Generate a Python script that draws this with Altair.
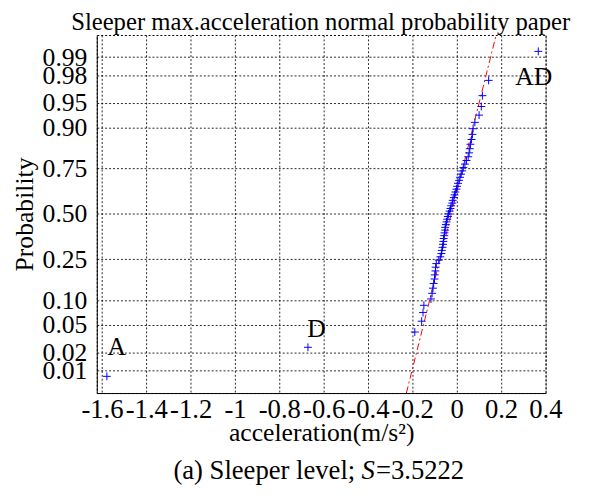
import altair as alt
import pandas as pd
from statistics import NormalDist

SERIF = "Liberation Serif"

# sorted sleeper max. acceleration samples (m/s^2)
accel = [-1.578, -0.671, -0.189, -0.158, -0.152, -0.148, -0.116, -0.111, -0.107, -0.104,
         -0.100, -0.099, -0.096, -0.095, -0.092, -0.081, -0.074, -0.069, -0.067, -0.064,
         -0.062, -0.060, -0.059, -0.056, -0.055, -0.052, -0.052, -0.049, -0.046, -0.043,
         -0.040, -0.037, -0.032, -0.028, -0.025, -0.020, -0.018, -0.013, -0.010, -0.006,
         -0.001, 0.002, 0.006, 0.011, 0.015, 0.020, 0.025, 0.030, 0.037, 0.044,
         0.052, 0.056, 0.059, 0.062, 0.067, 0.071, 0.074, 0.082, 0.101, 0.111,
         0.116, 0.144, 0.368]

prob_ticks = [0.01, 0.02, 0.05, 0.10, 0.25, 0.50, 0.75, 0.90, 0.95, 0.98, 0.99]
x_ticks = [-1.6, -1.4, -1.2, -1.0, -0.8, -0.6, -0.4, -0.2, 0.0, 0.2, 0.4]

fit_x = [-0.227, 0.178]
fit_z = [-2.66, 2.655]

ann_text = ["A", "D", "AD"]
ann_x = [-1.533, -0.632, 0.348]
ann_z = [-1.977, -1.709, 2.025]

title_text = "Sleeper max.acceleration normal probability paper"
cap_a, cap_s, cap_c = "(a) Sleeper level;", "S", "=3.5222"

z_ticks = [NormalDist().inv_cdf(p) for p in prob_ticks]

pts = pd.DataFrame({"x": accel})
fit = pd.DataFrame({"x": fit_x, "z": fit_z})
ann = pd.DataFrame({"t": ann_text, "x": ann_x, "z": ann_z})
txt = pd.DataFrame({"title": [title_text], "a": [cap_a], "b": [cap_s], "c": [cap_c]})

xs = alt.Scale(domain=[-1.6235, 0.401], nice=False, zero=False)
ys = alt.Scale(domain=[-2.66, 2.655], nice=False, zero=False)

x_axis = alt.Axis(values=x_ticks, labelExpr="'' + datum.value", grid=True,
                  ticks=False, tickSize=0, labelPadding=4, labelFontSize=27,
                  labelFont=SERIF, labelColor="black", labelOverlap=False,
                  labelBound=False, labelFlush=False, domainColor="black",
                  title="acceleration(m/s²)", titleFont=SERIF, titleFontSize=26,
                  titleFontWeight="normal", titleColor="black",
                  titleBaseline="alphabetic", titleY=48)
y_axis = alt.Axis(values=z_ticks,
                  labelExpr="format(cumulativeNormal(datum.value), '.2f')",
                  grid=True, ticks=False, tickSize=0, labelPadding=10,
                  labelFontSize=26, labelFont=SERIF, labelColor="black",
                  labelOverlap=False, labelBound=False, labelFlush=False,
                  domainColor="black", title="Probability", titleFont=SERIF,
                  titleFontSize=26, titleFontWeight="normal", titleColor="black",
                  titleBaseline="alphabetic", titleX=-65)

X = alt.X("x:Q", scale=xs, axis=x_axis)
Y = alt.Y("z:Q", scale=ys, axis=y_axis)

points = alt.Chart(pts).transform_window(
    i="row_number()", sort=[alt.SortField("x")]
).transform_joinaggregate(n="count()").transform_calculate(
    z="quantileNormal((datum.i - 0.5) / datum.n)"
).mark_point(shape="M-1,0L1,0M0,-1L0,1", size=64, filled=False,
             color="#0000ff", strokeWidth=1, opacity=1).encode(x=X, y=Y)

line = alt.Chart(fit).mark_line(color="red", strokeWidth=1,
                                strokeDash=[7, 3, 2, 3]).encode(x=X, y=Y)

labels = alt.Chart(ann).mark_text(font=SERIF, fontSize=26, color="black",
                                  align="center", baseline="middle").encode(
    x=X, y=Y, text="t:N")

title_mark = alt.Chart(txt).mark_text(font=SERIF, fontSize=25, color="black",
                                      align="center", baseline="alphabetic").encode(
    x=alt.value(227), y=alt.value(-5), text="title:N")
cap1 = alt.Chart(txt).mark_text(font=SERIF, fontSize=27, color="black",
                                align="right", baseline="alphabetic").encode(
    x=alt.value(262), y=alt.value(450), text="a:N")
cap2 = alt.Chart(txt).mark_text(font=SERIF, fontSize=27, fontStyle="italic",
                                color="black", align="center",
                                baseline="alphabetic").encode(
    x=alt.value(275), y=alt.value(450), text="b:N")
cap3 = alt.Chart(txt).mark_text(font=SERIF, fontSize=27, color="black",
                                align="left", baseline="alphabetic").encode(
    x=alt.value(283), y=alt.value(450), text="c:N")

chart = alt.layer(line, points, labels, title_mark, cap1, cap2, cap3).properties(
    width=455, height=363,
    autosize=alt.AutoSizeParams(type="none"),
    padding={"left": 90, "top": 24, "right": 44, "bottom": 100},
).configure_view(stroke="black", strokeDash=[2, 2], strokeWidth=1).configure_axis(
    gridColor="black", gridDash=[2, 2], gridWidth=1, gridOpacity=0.85,
    domainWidth=1, labelLimit=0, labelOverlap=False
)

chart.save("out.html", embed_options={"renderer": "svg", "actions": False})
